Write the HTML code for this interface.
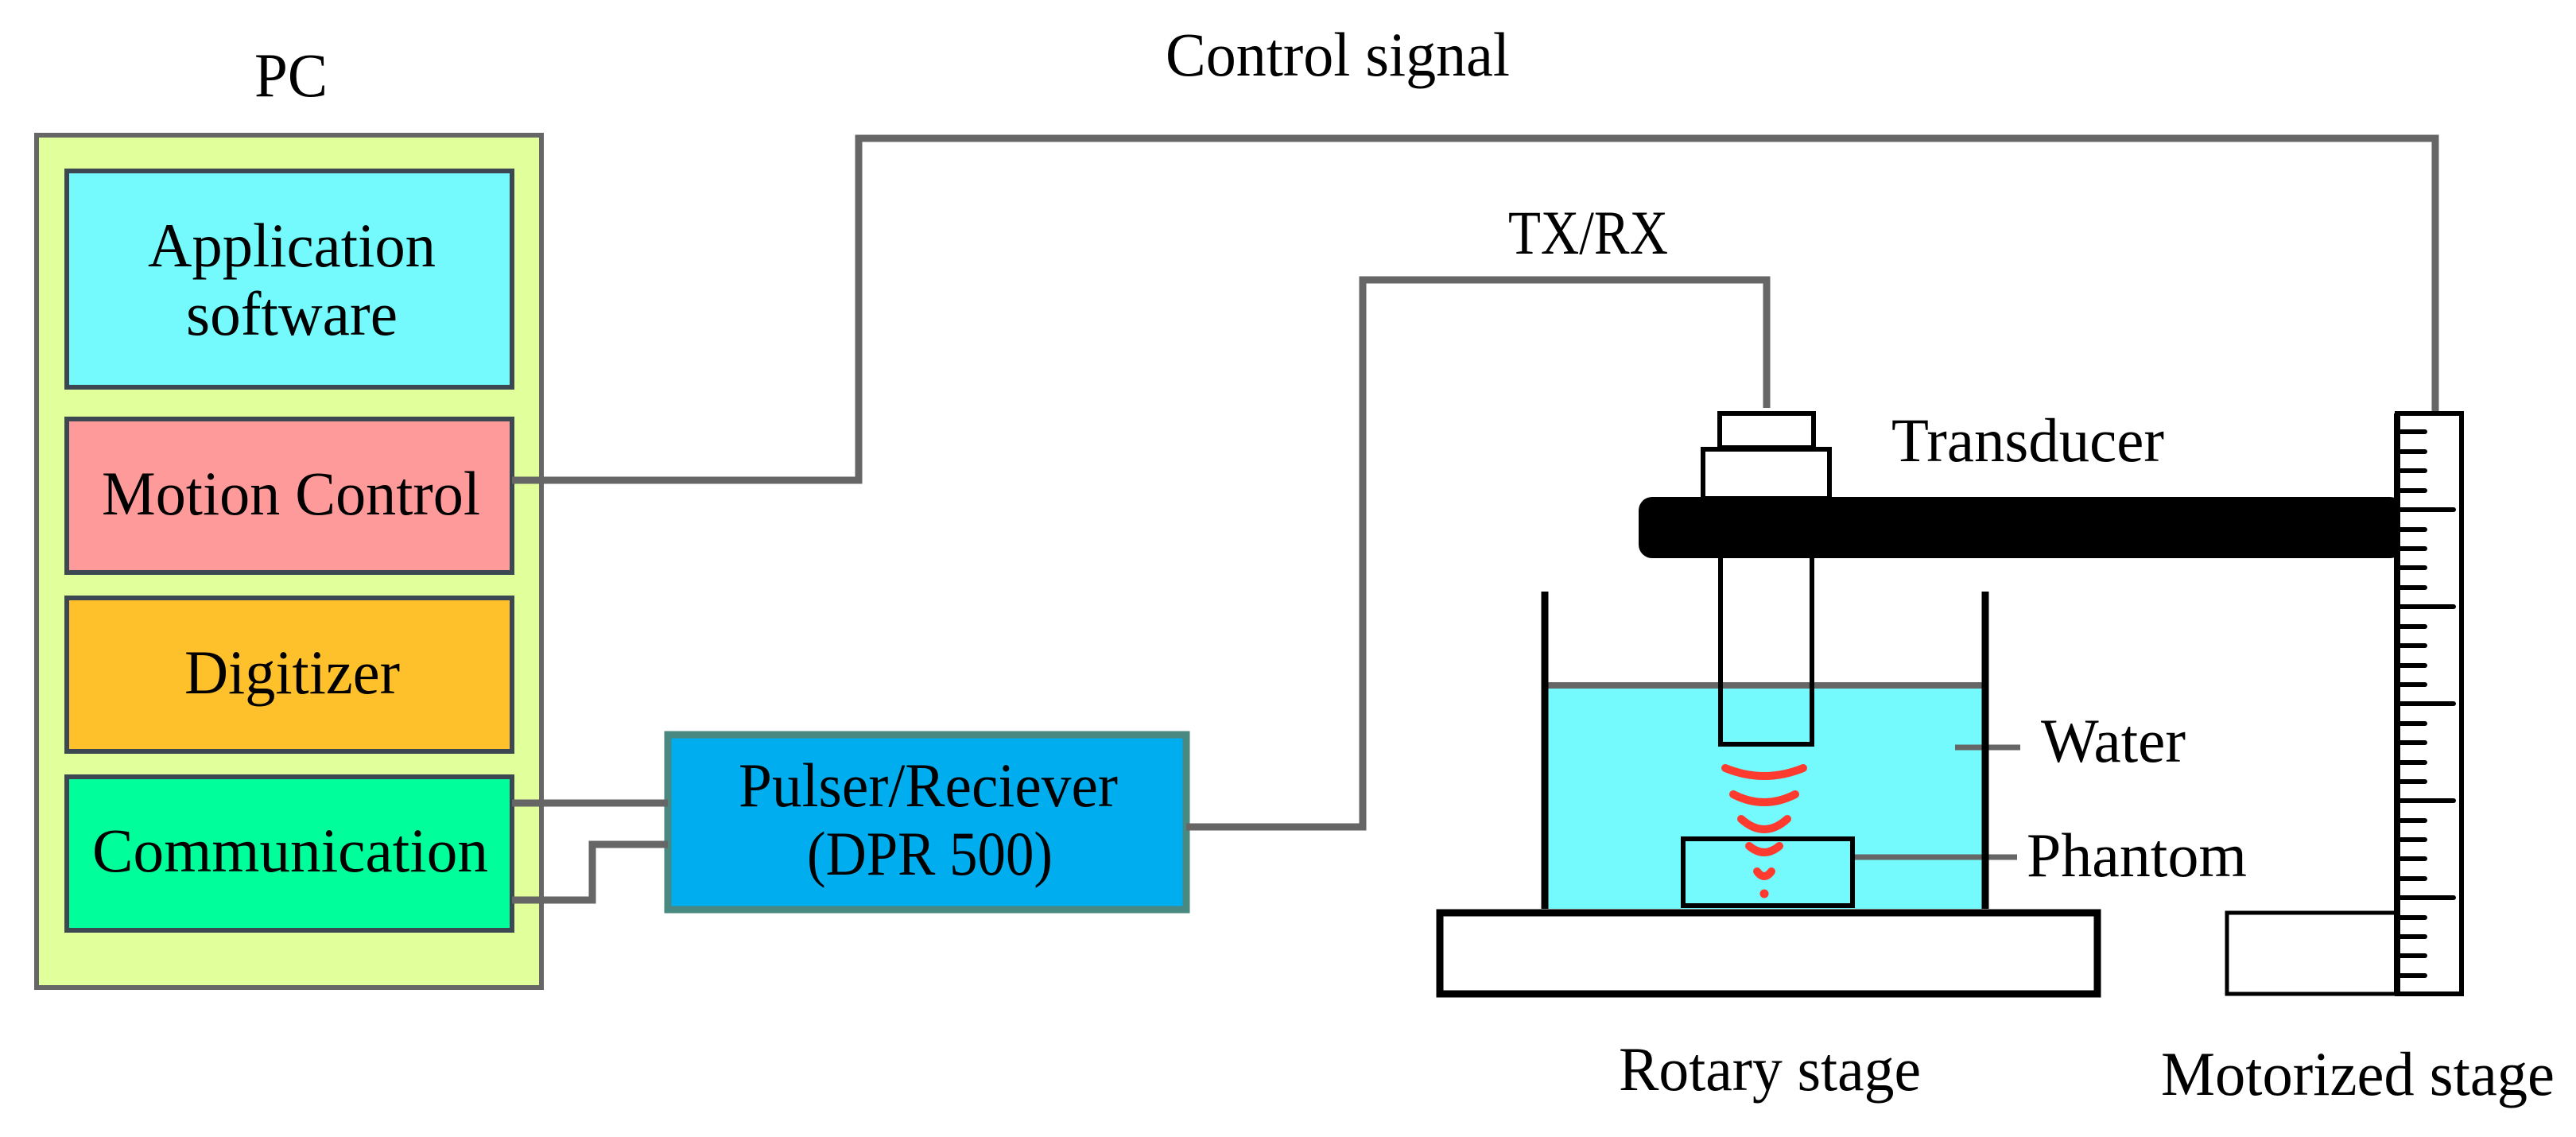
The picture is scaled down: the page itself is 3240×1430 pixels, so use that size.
<!DOCTYPE html>
<html><head><meta charset="utf-8"><style>html,body{margin:0;padding:0;background:#fff}svg{display:block}text{font-family:"Liberation Serif",serif;font-size:78px;fill:#000}</style></head>
<body>
<svg width="3240" height="1430" viewBox="0 0 3240 1430" xmlns="http://www.w3.org/2000/svg">
<!-- PC -->
<rect x="46" y="170" width="635" height="1072" fill="#e1ff9b" stroke="#666" stroke-width="6"/>
<rect x="84" y="215" width="560" height="272" fill="#74f9fc" stroke="#3d4752" stroke-width="6"/>
<rect x="84" y="527" width="560" height="193" fill="#fe9b9a" stroke="#3d4752" stroke-width="6"/>
<rect x="84" y="752" width="560" height="193" fill="#fec02b" stroke="#3d4752" stroke-width="6"/>
<rect x="84" y="977" width="560" height="193" fill="#00fe9a" stroke="#3d4752" stroke-width="6"/>
<text x="320" y="121" textLength="92" lengthAdjust="spacingAndGlyphs">PC</text>
<text x="186" y="335" textLength="362" lengthAdjust="spacingAndGlyphs">Application</text>
<text x="234" y="421" textLength="266" lengthAdjust="spacingAndGlyphs">software</text>
<text x="128" y="647" textLength="476" lengthAdjust="spacingAndGlyphs">Motion Control</text>
<text x="232" y="872" textLength="271" lengthAdjust="spacingAndGlyphs">Digitizer</text>
<text x="116" y="1096" textLength="498" lengthAdjust="spacingAndGlyphs">Communication</text>
<!-- Pulser -->
<rect x="840" y="924" width="652" height="220" fill="#00aeef" stroke="#4a8882" stroke-width="9"/>
<text x="929" y="1014" textLength="477" lengthAdjust="spacingAndGlyphs">Pulser/Reciever</text>
<text x="1015" y="1100" textLength="309" lengthAdjust="spacingAndGlyphs">(DPR 500)</text>
<!-- lines -->
<g fill="none" stroke="#666" stroke-width="9">
<path d="M644 604 H1080 V174 H3063 V517"/>
<path d="M644 1010 H840"/>
<path d="M644 1132 H745 V1062 H840"/>
<path d="M1492 1040 H1714 V352 H2222 V513"/>
</g>
<text x="1466" y="95" textLength="433" lengthAdjust="spacingAndGlyphs">Control signal</text>
<text x="1897" y="319" textLength="201" lengthAdjust="spacingAndGlyphs">TX/RX</text>
<!-- water -->
<rect x="1943" y="862" width="554" height="281" fill="#74f9fc"/>
<path d="M1943 862 H2497" stroke="#666" stroke-width="8"/>
<g fill="none" stroke="#666" stroke-width="7">
<path d="M2459 940 H2541"/>
<path d="M2330 1078 H2537"/>
</g>
<g fill="none" stroke="#000">
<path d="M1943 744 V1143 M2497 744 V1143" stroke-width="9"/>
<rect x="2117" y="1055" width="213" height="84" stroke-width="6"/>
<rect x="1811" y="1148" width="827" height="102" stroke-width="9" fill="#fff"/>
<rect x="2163" y="520" width="118" height="43" stroke-width="6" fill="#fff"/>
<rect x="2142" y="565" width="159" height="62" stroke-width="6" fill="#fff"/>
<path d="M2164 700 V936 H2279 V700" stroke-width="6"/>
</g>
<rect x="2061" y="625" width="962" height="77" rx="17" fill="#000"/>
<!-- waves -->
<g fill="none" stroke="#ff3b30" stroke-width="10" stroke-linecap="round">
<path d="M2170 966 Q2219 986 2268 966"/>
<path d="M2180 999 Q2219 1019 2258 999"/>
<path d="M2190 1030 Q2219 1056 2248 1030"/>
<path d="M2200 1064 Q2219 1080 2238 1064"/>
<path d="M2210 1096 Q2219 1108 2228 1096"/>
</g>
<circle cx="2219" cy="1124" r="5.5" fill="#ff3b30"/>
<text x="2379" y="580" textLength="343" lengthAdjust="spacingAndGlyphs">Transducer</text>
<text x="2567" y="958" textLength="182" lengthAdjust="spacingAndGlyphs">Water</text>
<text x="2549" y="1102" textLength="277" lengthAdjust="spacingAndGlyphs">Phantom</text>
<text x="2036" y="1371" textLength="380" lengthAdjust="spacingAndGlyphs">Rotary stage</text>
<text x="2718" y="1377" textLength="495" lengthAdjust="spacingAndGlyphs">Motorized stage</text>
<!-- motorized -->
<rect x="2801" y="1148" width="213" height="102" fill="#fff" stroke="#000" stroke-width="5"/>
<rect x="3015" y="520" width="81" height="730" fill="#fff" stroke="#000" stroke-width="6"/>
<path d="M3015 520 V1250" stroke="#000" stroke-width="8"/>
<g stroke="#000" stroke-width="6" stroke-linecap="round">
<path d="M3018 543H3050M3018 568H3050M3018 592H3050M3018 617H3050M3018 641H3086M3018 666H3050M3018 690H3050M3018 714H3050M3018 739H3050M3018 763H3086M3018 788H3050M3018 812H3050M3018 837H3050M3018 861H3050M3018 885H3086M3018 910H3050M3018 934H3050M3018 959H3050M3018 983H3050M3018 1007H3086M3018 1032H3050M3018 1056H3050M3018 1080H3050M3018 1105H3050M3018 1129H3086M3018 1154H3050M3018 1178H3050M3018 1202H3050M3018 1227H3050"/>
</g>
</svg>
</body></html>
